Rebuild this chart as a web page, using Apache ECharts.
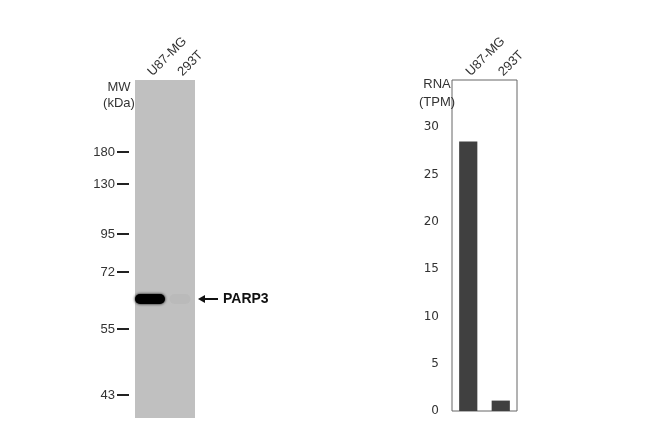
<!DOCTYPE html>
<html><head><meta charset="utf-8">
<script src="https://cdn.jsdelivr.net/npm/echarts@6/dist/echarts.min.js"></script>
<style>html,body{margin:0;padding:0;background:#fff}#c{width:650px;height:422px}</style>
</head><body><div id="c"></div>
<script>
// Western blot
const lanes = ['U87-MG', '293T'];
const mwLabels = ['180', '130', '95', '72', '55', '43'];
const mwPositions = [72, 104, 154, 192, 249, 315]; // migration distance from top of gel
const gelLength = 338;
const bandPositions = [219, 219];
const bandIntensity = [1.0, 0.03];
const bandTarget = 'PARP3';
// RNA expression
const rnaCategories = ['U87-MG', '293T'];
const rnaValues = [28.5, 1.1];
const rnaTicks = [0, 5, 10, 15, 20, 25, 30];

const chart = echarts.init(document.getElementById('c'));
const font = 'Liberation Sans, Arial, sans-serif';
const bandData = lanes.map((l, i) => [i, bandPositions[i], bandIntensity[i]]);

chart.setOption({
  animation: false,
  backgroundColor: '#fff',
  title: [
    {text: 'MW\n(kDa)', left: 114, top: 74, textAlign: 'center',
     textStyle: {fontFamily: font, fontSize: 13, fontWeight: 'normal', color: '#333', lineHeight: 16}},
    {text: 'RNA\n(TPM)', left: 432, top: 70, textAlign: 'center',
     textStyle: {fontFamily: font, fontSize: 13, fontWeight: 'normal', color: '#333', lineHeight: 18}}
  ],
  grid: [
    {left: 135, top: 80, width: 60, height: 338, show: true, backgroundColor: '#c0c0c0', borderWidth: 0},
    {left: 452, top: 80, width: 65, height: 331, show: true, backgroundColor: '#fff', borderColor: '#666', borderWidth: 1}
  ],
  xAxis: [
    {type: 'category', gridIndex: 0, position: 'top', data: lanes,
     axisLine: {show: false}, axisTick: {show: false},
     axisLabel: {rotate: 45, margin: 6, fontFamily: font, fontSize: 13, color: '#333'}},
    {type: 'category', gridIndex: 1, position: 'top', data: rnaCategories,
     axisLine: {show: false}, axisTick: {show: false},
     axisLabel: {rotate: 45, margin: 6, fontFamily: font, fontSize: 13, color: '#333'}}
  ],
  yAxis: [
    {type: 'value', gridIndex: 0, inverse: true, min: 0, max: gelLength, offset: 6,
     splitLine: {show: false}, axisLine: {show: false},
     axisTick: {show: true, length: 12, customValues: mwPositions, lineStyle: {color: '#222', width: 2}},
     axisLabel: {customValues: mwPositions, margin: 14, fontFamily: font, fontSize: 13, color: '#333',
       formatter: v => mwLabels[mwPositions.indexOf(v)]}},
    {type: 'value', gridIndex: 1, min: 0, max: 35, interval: 5,
     splitLine: {show: false}, axisLine: {show: false}, axisTick: {show: false},
     axisLabel: {customValues: rnaTicks, margin: 13, fontFamily: 'DejaVu Sans, sans-serif', fontSize: 12, color: '#333'}}
  ],
  series: [
    {type: 'custom', xAxisIndex: 0, yAxisIndex: 0, data: bandData, clip: false,
     renderItem: (params, api) => {
       const idx = params.dataIndex;
       const c = api.coord([api.value(0), api.value(1)]);
       const bw = api.size([1, 0])[0];
       const inten = api.value(2);
       const w = inten > 0.5 ? bw : bw * 0.7, h = 10;
       const children = [{
         type: 'rect',
         shape: {x: c[0] - w / 2, y: c[1] - h / 2, width: w, height: h, r: 5},
         style: {fill: 'rgba(0,0,0,' + inten + ')', shadowBlur: 3, shadowColor: 'rgba(0,0,0,' + inten + ')'}
       }];
       if (idx === lanes.length - 1) {
         const x0 = c[0] + bw / 2 + 3;
         children.push({type: 'line', shape: {x1: x0 + 3, y1: c[1], x2: x0 + 20, y2: c[1]}, style: {stroke: '#111', lineWidth: 2}});
         children.push({type: 'polygon', shape: {points: [[x0, c[1]], [x0 + 7, c[1] - 4], [x0 + 7, c[1] + 4]]}, style: {fill: '#111'}});
         children.push({type: 'text', x: x0 + 25, y: c[1], style: {text: bandTarget, fill: '#111', font: 'bold 14px ' + font, verticalAlign: 'middle', align: 'left'}});
       }
       return {type: 'group', children};
     }},
    {type: 'bar', xAxisIndex: 1, yAxisIndex: 1, data: rnaValues, barWidth: '56%',
     itemStyle: {color: '#404040'}}
  ]
});
</script></body></html>
